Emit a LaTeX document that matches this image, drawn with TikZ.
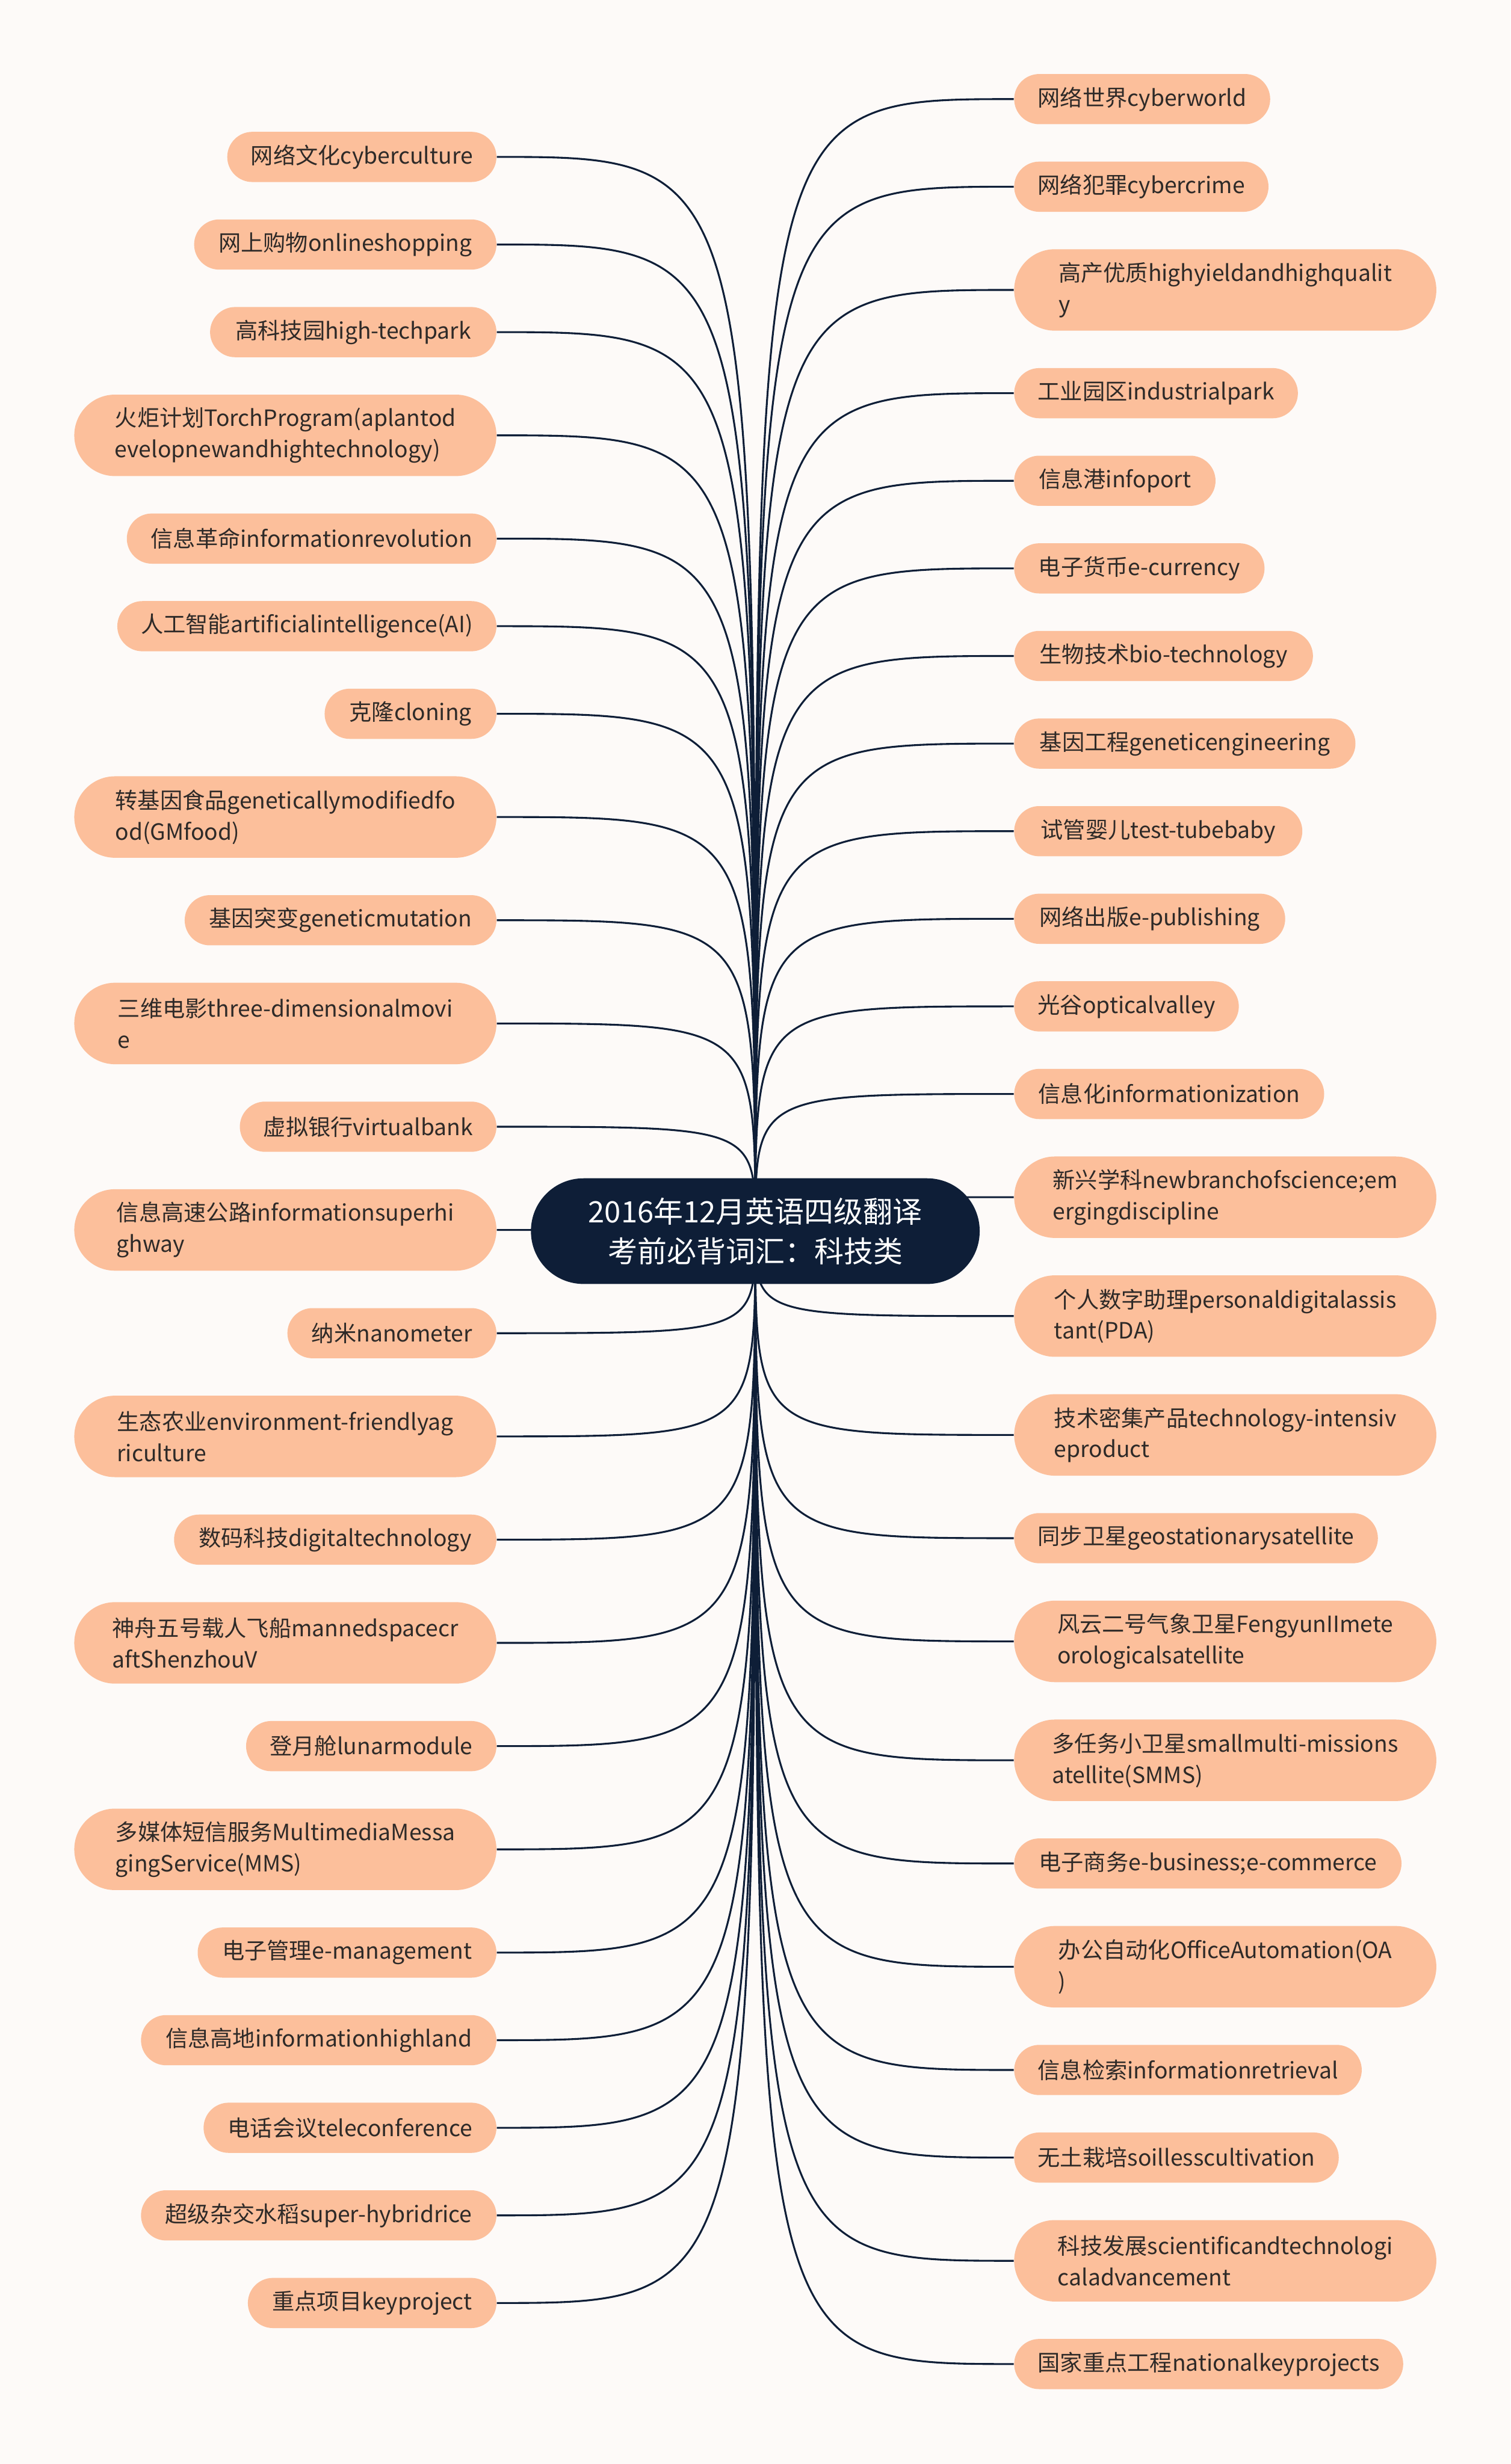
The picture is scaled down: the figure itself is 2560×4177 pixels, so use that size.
\documentclass[tikz,border=0pt]{standalone}
\usepackage{fontspec}
\setmainfont{Noto Sans CJK SC}
\usetikzlibrary{backgrounds}
\definecolor{bgc}{HTML}{FDFAF8}
\definecolor{navy}{HTML}{0E1E37}
\definecolor{peach}{HTML}{FCBF9B}
\definecolor{txt}{HTML}{2E2A28}
\hyphenpenalty=10000 \exhyphenpenalty=10000
\begin{document}
\begin{tikzpicture}[x=0.01cm,y=-0.01cm,
  leaf/.style={fill=peach, text=txt, rounded corners=0.425cm, minimum height=0.85cm,
    inner xsep=0.4cm, inner ysep=0pt, font=\fontsize{10.8pt}{15pt}\selectfont},
  leafd/.style={leaf, rounded corners=0.69cm, minimum height=1.38cm, minimum width=7.15cm, align=left},
  lft/.style={anchor=east},
  rgt/.style={anchor=west},
  root/.style={fill=navy, text=white, rounded corners=0.89cm, minimum width=7.6cm, minimum height=1.79cm,
    align=center, font=\fontsize{14.2pt}{19pt}\selectfont},
  conn/.style={draw=navy, line width=0.9pt}]
\useasboundingbox (0,0) rectangle (2560,4177);

\node[root] (c) at (1280,2087) {2016年12月英语四级翻译\\考前必背词汇：科技类};

% left
\node[leaf,lft,minimum width=4.53cm] (l1) at (842,266) {网络文化cyberculture};
\node[leaf,lft,minimum width=5.12cm] (l2) at (842,414.5) {网上购物onlineshopping};
\node[leaf,lft,minimum width=4.85cm] (l3) at (842,563) {高科技园high-techpark};
\node[leafd,lft] (l4) at (842,738) {火炬计划TorchProgram(aplantod\\evelopnewandhightechnology)};
\node[leaf,lft,minimum width=6.26cm] (l5) at (842,913) {信息革命informationrevolution};
\node[leaf,lft,minimum width=6.40cm] (l6) at (842,1061.5) {人工智能artificialintelligence(AI)};
\node[leaf,lft,minimum width=2.91cm] (l7) at (842,1210) {克隆cloning};
\node[leafd,lft] (l8) at (842,1385) {转基因食品geneticallymodifiedfo\\od(GMfood)};
\node[leaf,lft,minimum width=5.28cm] (l9) at (842,1560) {基因突变geneticmutation};
\node[leafd,lft] (l10) at (842,1735) {三维电影three-dimensionalmovi\\e};
\node[leaf,lft,minimum width=4.32cm] (l11) at (842,1910) {虚拟银行virtualbank};
\node[leafd,lft] (l12) at (842,2085) {信息高速公路informationsuperhi\\ghway};
\node[leaf,lft,minimum width=3.54cm] (l13) at (842,2260) {纳米nanometer};
\node[leafd,lft] (l14) at (842,2435) {生态农业environment-friendlyag\\riculture};
\node[leaf,lft,minimum width=5.46cm] (l15) at (842,2610) {数码科技digitaltechnology};
\node[leafd,lft] (l16) at (842,2785) {神舟五号载人飞船mannedspacecr\\aftShenzhouV};
\node[leaf,lft,minimum width=4.24cm] (l17) at (842,2960) {登月舱lunarmodule};
\node[leafd,lft] (l18) at (842,3135) {多媒体短信服务MultimediaMessa\\gingService(MMS)};
\node[leaf,lft,minimum width=5.06cm] (l19) at (842,3310) {电子管理e-management};
\node[leaf,lft,minimum width=6.02cm] (l20) at (842,3458.5) {信息高地informationhighland};
\node[leaf,lft,minimum width=4.96cm] (l21) at (842,3607) {电话会议teleconference};
\node[leaf,lft,minimum width=6.02cm] (l22) at (842,3755.5) {超级杂交水稻super-hybridrice};
\node[leaf,lft,minimum width=4.21cm] (l23) at (842,3904) {重点项目keyproject};

% right
\node[leaf,rgt,minimum width=4.32cm] (r1) at (1718,168) {网络世界cyberworld};
\node[leaf,rgt,minimum width=4.29cm] (r2) at (1718,316.5) {网络犯罪cybercrime};
\node[leafd,rgt] (r3) at (1718,491.5) {高产优质highyieldandhighqualit\\y};
\node[leaf,rgt,minimum width=4.77cm] (r4) at (1718,666.5) {工业园区industrialpark};
\node[leaf,rgt,minimum width=3.41cm] (r5) at (1718,815) {信息港infoport};
\node[leaf,rgt,minimum width=4.24cm] (r6) at (1718,963.5) {电子货币e-currency};
\node[leaf,rgt,minimum width=5.06cm] (r7) at (1718,1112) {生物技术bio-technology};
\node[leaf,rgt,minimum width=5.78cm] (r8) at (1718,1260.5) {基因工程geneticengineering};
\node[leaf,rgt,minimum width=4.88cm] (r9) at (1718,1409) {试管婴儿test-tubebaby};
\node[leaf,rgt,minimum width=4.59cm] (r10) at (1718,1557.5) {网络出版e-publishing};
\node[leaf,rgt,minimum width=3.79cm] (r11) at (1718,1706) {光谷opticalvalley};
\node[leaf,rgt,minimum width=5.25cm] (r12) at (1718,1854.5) {信息化informationization};
\node[leafd,rgt] (r13) at (1718,2029.5) {新兴学科newbranchofscience;em\\ergingdiscipline};
\node[leafd,rgt] (r14) at (1718,2231) {个人数字助理personaldigitalassis\\tant(PDA)};
\node[leafd,rgt] (r15) at (1718,2432.5) {技术密集产品technology-intensiv\\eproduct};
\node[leaf,rgt,minimum width=6.16cm] (r16) at (1718,2607.5) {同步卫星geostationarysatellite};
\node[leafd,rgt] (r17) at (1718,2782.5) {风云二号气象卫星FengyunIImete\\orologicalsatellite};
\node[leafd,rgt] (r18) at (1718,2984) {多任务小卫星smallmulti-missions\\atellite(SMMS)};
\node[leaf,rgt,minimum width=6.56cm] (r19) at (1718,3159) {电子商务e-business;e-commerce};
\node[leafd,rgt] (r20) at (1718,3334) {办公自动化OfficeAutomation(OA\\)};
\node[leaf,rgt,minimum width=5.86cm] (r21) at (1718,3509) {信息检索informationretrieval};
\node[leaf,rgt,minimum width=5.46cm] (r22) at (1718,3657.5) {无土栽培soillesscultivation};
\node[leafd,rgt] (r23) at (1718,3832.5) {科技发展scientificandtechnologi\\caladvancement};
\node[leaf,rgt,minimum width=6.56cm] (r24) at (1718,4007.5) {国家重点工程nationalkeyprojects};

\begin{pgfonlayer}{background}
\fill[bgc] (0,0) rectangle (2560,4177);
\foreach \i in {1,...,23}
  \draw[conn] (c.center) .. controls (c.center |- l\i.east) .. (l\i.east);
\foreach \i in {1,...,24}
  \draw[conn] (c.center) .. controls (c.center |- r\i.west) .. (r\i.west);
\end{pgfonlayer}
\end{tikzpicture}
\end{document}
